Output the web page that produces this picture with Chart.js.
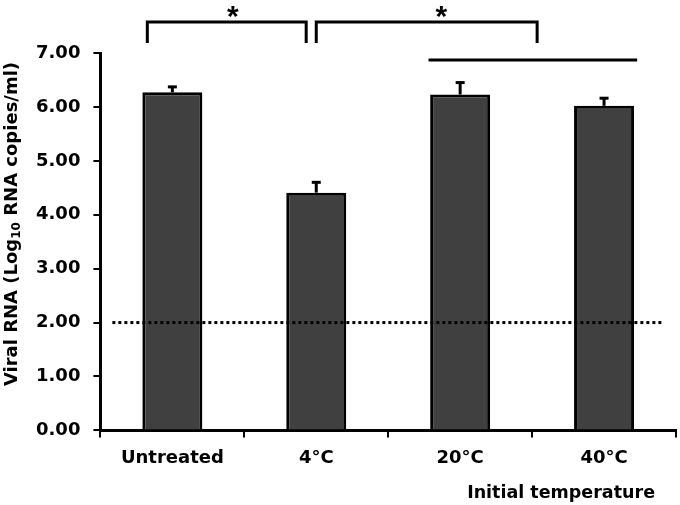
<!DOCTYPE html>
<html>
<head>
<meta charset="utf-8">
<script src="https://cdn.jsdelivr.net/npm/chart.js@4"></script>
<style>
  html, body { margin: 0; padding: 0; background: #fff; }
  #wrap { width: 680px; height: 505px; }
</style>
</head>
<body>
<div id="wrap"><canvas id="myChart" width="680" height="505"></canvas></div>
<script>
const categories = ['Untreated', '4°C', '20°C', '40°C'] ;
const viralRna = [6.27, 4.41, 6.23, 6.02] ;
const errorUp = [0.12, 0.21, 0.24, 0.16] ;
const detectionLimit = 2.0 ;
const yMin = 0 ;
const yMax = 7 ;
const yStep = 1 ;

const FONT = "'DejaVu Sans', sans-serif" ;

// brackets / significance marks, in category index + y value units
const marks = {
    bracketA: { from: -0.174, to: 0.93, top: 7.575, foot: 7.185, star: 0.42 },
    bracketB: { from: 1.0, to: 2.535, top: 7.575, foot: 7.185, star: 1.87 },
    groupLine: { from: 1.78, to: 3.23, y: 6.87 },
    dotted: { from: -0.417, to: 3.41 }
} ;

const extrasPlugin = {
    id: 'extras',
    afterDatasetsDraw(chart) {
        const ctx = chart.ctx ;
        const x = chart.scales.x ;
        const y = chart.scales.y ;
        const meta = chart.getDatasetMeta(0) ;

        // error bars (upper only)
        ctx.save() ;
        ctx.strokeStyle = '#000' ;
        meta.data.forEach((bar, i) => {
            const top = y.getPixelForValue(viralRna[i] + errorUp[i]) ;
            ctx.lineWidth = 3 ;
            ctx.beginPath() ;
            ctx.moveTo(bar.x, bar.y) ;
            ctx.lineTo(bar.x, top) ;
            ctx.stroke() ;
            ctx.beginPath() ;
            ctx.moveTo(bar.x - 4.5, top + 1) ;
            ctx.lineTo(bar.x + 4.5, top + 1) ;
            ctx.stroke() ;
        }) ;

        // detection limit
        const yd = y.getPixelForValue(detectionLimit) ;
        ctx.setLineDash([3, 3]) ;
        ctx.lineWidth = 3 ;
        ctx.beginPath() ;
        ctx.moveTo(x.getPixelForValue(marks.dotted.from), yd) ;
        ctx.lineTo(x.getPixelForValue(marks.dotted.to), yd) ;
        ctx.stroke() ;
        ctx.setLineDash([]) ;

        // brackets
        [marks.bracketA, marks.bracketB].forEach(b => {
            const x1 = x.getPixelForValue(b.from) ;
            const x2 = x.getPixelForValue(b.to) ;
            const yt = y.getPixelForValue(b.top) ;
            const yf = y.getPixelForValue(b.foot) ;
            ctx.lineWidth = 3 ;
            ctx.beginPath() ;
            ctx.moveTo(x1, yf) ;
            ctx.lineTo(x1, yt) ;
            ctx.lineTo(x2, yt) ;
            ctx.lineTo(x2, yf) ;
            ctx.stroke() ;

            ctx.fillStyle = '#000' ;
            ctx.font = "bold 30px 'Liberation Sans', Arial, sans-serif" ;
            ctx.textAlign = 'center' ;
            ctx.textBaseline = 'alphabetic' ;
            const m = ctx.measureText('*') ;
            const mid = (m.actualBoundingBoxAscent - m.actualBoundingBoxDescent) / 2 ;
            ctx.fillText('*', x.getPixelForValue(b.star), y.getPixelForValue(7.76) + mid) ;
        }) ;

        const g = marks.groupLine ;
        ctx.lineWidth = 3 ;
        ctx.beginPath() ;
        ctx.moveTo(x.getPixelForValue(g.from), y.getPixelForValue(g.y)) ;
        ctx.lineTo(x.getPixelForValue(g.to), y.getPixelForValue(g.y)) ;
        ctx.stroke() ;
        ctx.restore() ;
    },
    afterDraw(chart) {
        const ctx = chart.ctx ;
        const area = chart.chartArea ;
        ctx.save() ;
        ctx.fillStyle = '#000' ;

        // x title
        ctx.font = 'bold 17.5px ' + FONT ;
        ctx.textAlign = 'right' ;
        ctx.textBaseline = 'middle' ;
        ctx.fillText('Initial temperature', area.right - 21, 493) ;

        // y title with subscript
        const parts = [
            { t: 'Viral RNA (Log', size: 18, dy: 0 },
            { t: '10', size: 12, dy: 5 },
            { t: ' RNA copies/ml)', size: 18, dy: 0 }
        ] ;
        let total = 0 ;
        parts.forEach(p => {
            ctx.font = 'bold ' + p.size + 'px ' + FONT ;
            p.w = ctx.measureText(p.t).width ;
            total += p.w ;
        }) ;
        ctx.translate(12, 224) ;
        ctx.rotate(-Math.PI / 2) ;
        ctx.textAlign = 'left' ;
        ctx.textBaseline = 'middle' ;
        let cx = -total / 2 ;
        parts.forEach(p => {
            ctx.font = 'bold ' + p.size + 'px ' + FONT ;
            ctx.fillText(p.t, cx, p.dy) ;
            cx += p.w ;
        }) ;
        ctx.restore() ;
    }
} ;

const ctx = document.getElementById('myChart') ;
const myChart = new Chart(ctx, {
    type: 'bar',
    data: {
        labels: categories,
        datasets: [{
            data: viralRna,
            backgroundColor: '#404040',
            borderColor: '#000',
            borderWidth: 3,
            categoryPercentage: 1,
            barPercentage: 0.417
        }]
    },
    options: {
        responsive: false,
        animation: false,
        layout: {
            padding: { left: 23, right: 4, top: 53, bottom: 26 }
        },
        plugins: {
            legend: { display: false },
            tooltip: { enabled: false }
        },
        scales: {
            x: {
                grid: {
                    display: true,
                    drawOnChartArea: false,
                    drawTicks: true,
                    tickLength: 7,
                    color: '#000',
                    lineWidth: 2
                },
                border: { display: true, color: '#000', width: 3 },
                ticks: {
                    color: '#000',
                    padding: 10,
                    font: { family: FONT, size: 18, weight: 'bold' }
                }
            },
            y: {
                min: yMin,
                max: yMax,
                grid: {
                    display: true,
                    drawOnChartArea: false,
                    drawTicks: true,
                    tickLength: 7,
                    color: '#000',
                    lineWidth: 2
                },
                border: { display: true, color: '#000', width: 3 },
                ticks: {
                    stepSize: yStep,
                    color: '#000',
                    padding: 13,
                    font: { family: FONT, size: 18, weight: 'bold' },
                    callback: v => v.toFixed(2)
                }
            }
        }
    },
    plugins: [extrasPlugin]
}) ;
</script>
</body>
</html>
